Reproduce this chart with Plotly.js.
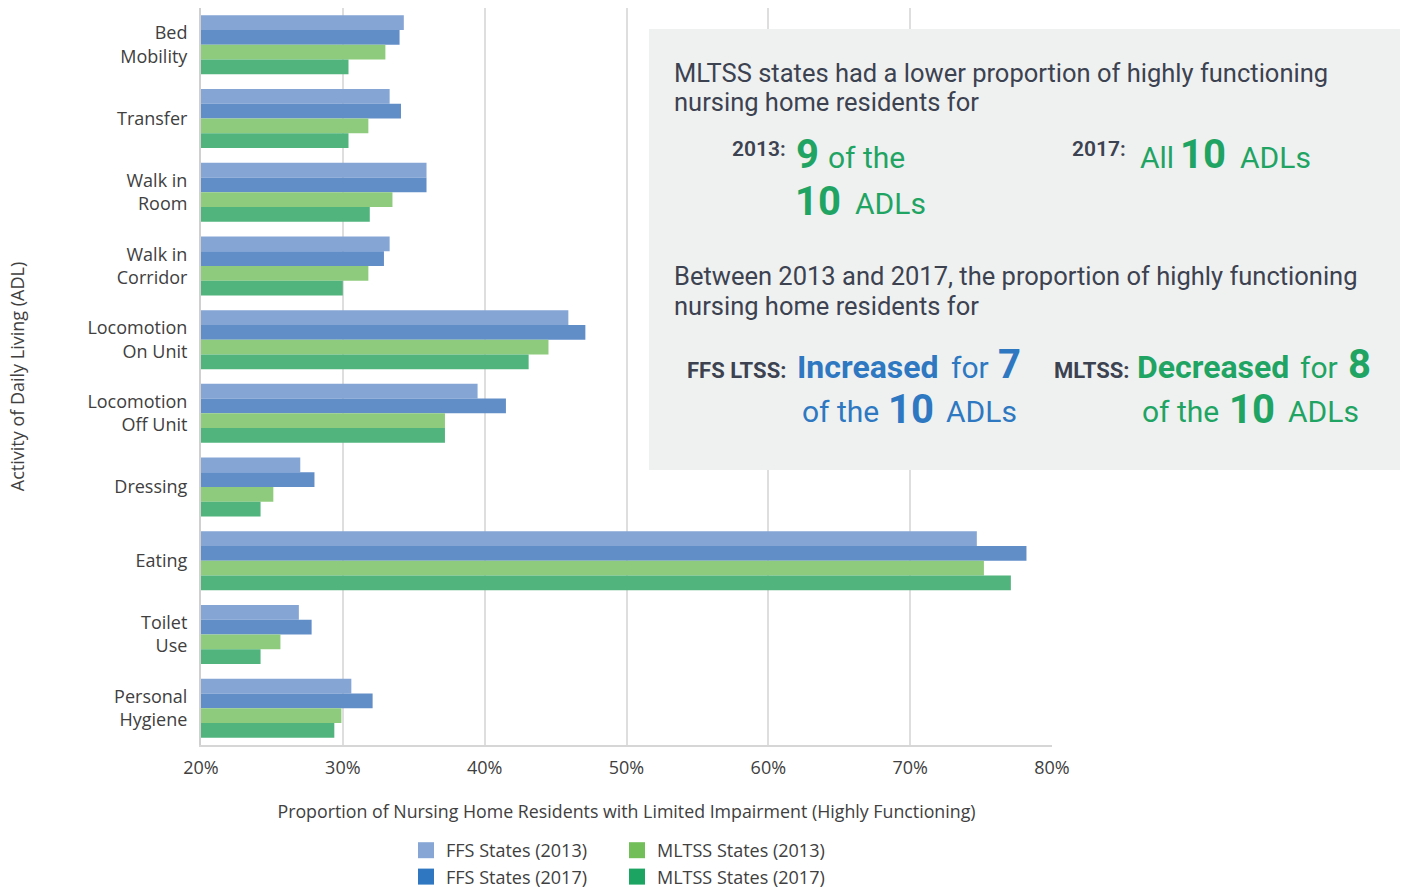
<!DOCTYPE html>
<html>
<head>
<meta charset="utf-8">
<script src="https://cdn.plot.ly/plotly-3.0.1.min.js"></script>
<style>html,body{margin:0;padding:0;background:#fff;}#chart{width:1403px;height:890px;}</style>
</head>
<body>
<div id="chart"></div>
<script>
// ---- data ----
const categories = ["Bed<br>Mobility","Transfer","Walk in<br>Room","Walk in<br>Corridor","Locomotion<br>On Unit","Locomotion<br>Off Unit","Dressing","Eating","Toilet<br>Use","Personal<br>Hygiene"];
const ffs2013   = [34.3, 33.3, 35.9, 33.3, 45.9, 39.5, 27.0, 74.7, 26.9, 30.6];
const ffs2017   = [34.0, 34.1, 35.9, 32.9, 47.1, 41.5, 28.0, 78.2, 27.8, 32.1];
const mltss2013 = [33.0, 31.8, 33.5, 31.8, 44.5, 37.2, 25.1, 75.2, 25.6, 29.9];
const mltss2017 = [30.4, 30.4, 31.9, 30.0, 43.1, 37.2, 24.2, 77.1, 24.2, 29.4];
const seriesNames = ["FFS States (2013)","FFS States (2017)","MLTSS States (2013)","MLTSS States (2017)"];
const xTickVals = [20, 30, 40, 50, 60, 70, 80];
const xTickLabels = ["20%","30%","40%","50%","60%","70%","80%"];

// ---- styling ----
const barColors = ["#85A5D5","#628EC8","#8ECB7D","#51B47D"];
const legendColors = ["#87A6D6","#2F78C1","#72BF5A","#1CA462"];
const legendIds = ["legend","legend","legend2","legend2"];
const FONT = "'Open Sans', sans-serif";
const BOXFONT = "Roboto, sans-serif";
const DARK = "#3c4250", GREEN = "#1fa463", BLUE = "#2e78c2";

const L = 201, R = 1052, T = 8, B = 745, W = 1403, H = 890;
const px = x => (x - L) / (R - L);
const py = y => (B - y) / (B - T);

const vals = [ffs2013, ffs2017, mltss2013, mltss2017];
const traces = vals.map((v, i) => ({
  type: "bar", orientation: "h", y: categories, x: v, name: seriesNames[i],
  marker: {color: barColors[i]}, showlegend: false, offsetgroup: String(i),
  hoverinfo: "x+name"
}));
vals.forEach((v, i) => traces.push({
  type: "scatter", mode: "markers", x: [null], y: [null], name: seriesNames[i],
  legend: legendIds[i], legendgroup: "g" + i,
  marker: {symbol: "square", size: 16, color: legendColors[i]}, hoverinfo: "skip"
}));

function ann(text, x, y, size, color, opts) {
  opts = opts || {};
  return {
    text: text, xref: "paper", yref: "paper", x: px(x), y: py(y),
    xanchor: opts.xa || "left", yanchor: "middle", showarrow: false,
    align: "left", font: {family: BOXFONT, size: size, color: color, weight: opts.w || 400}
  };
}

const annotations = [
  ann("MLTSS states had a lower proportion of highly functioning", 672, 73, 25.5, DARK),
  ann("nursing home residents for", 672, 102, 25.5, DARK),
  ann("2013:", 788, 149, 21, DARK, {xa: "right", w: 600}),
  ann("9", 794, 154, 40, GREEN, {w: 700}),
  ann("of the", 826, 158, 30, GREEN),
  ann("10", 793, 201, 40, GREEN, {w: 700}),
  ann("ADLs", 853, 203, 30, GREEN),
  ann("2017:", 1128, 149, 21, DARK, {xa: "right", w: 600}),
  ann("All", 1138, 158, 30, GREEN),
  ann("10", 1178, 154, 40, GREEN, {w: 700}),
  ann("ADLs", 1238, 158, 30, GREEN),
  ann("Between 2013 and 2017, the proportion of highly functioning", 672, 276, 25.5, DARK),
  ann("nursing home residents for", 672, 306, 25.5, DARK),
  ann("FFS LTSS:", 788, 370, 22, DARK, {xa: "right", w: 700}),
  ann("Increased", 795, 367, 32, BLUE, {w: 700}),
  ann("for", 949, 367, 30, BLUE),
  ann("7", 996, 364, 40, BLUE, {w: 700}),
  ann("of the", 800, 411, 30, BLUE),
  ann("10", 886, 409, 40, BLUE, {w: 700}),
  ann("ADLs", 944, 411, 30, BLUE),
  ann("MLTSS:", 1131, 370, 22, DARK, {xa: "right", w: 700}),
  ann("Decreased", 1135, 367, 32, GREEN, {w: 700}),
  ann("for", 1298, 367, 30, GREEN),
  ann("8", 1346, 364, 40, GREEN, {w: 700}),
  ann("of the", 1140, 411, 30, GREEN),
  ann("10", 1227, 409, 40, GREEN, {w: 700}),
  ann("ADLs", 1286, 411, 30, GREEN)
];

const legendBase = {
  orientation: "v", xanchor: "left", yanchor: "top", y: py(832),
  font: {family: FONT, size: 18, color: "#404040"}, bgcolor: "rgba(0,0,0,0)",
  tracegroupgap: 0, itemclick: false, itemdoubleclick: false
};

const layout = {
  width: W, height: H,
  margin: {l: L, r: W - R, t: T, b: H - B, pad: 0, autoexpand: false},
  paper_bgcolor: "#ffffff", plot_bgcolor: "#ffffff",
  font: {family: FONT, color: "#404040", size: 18},
  barmode: "group", bargap: 0.2, bargroupgap: 0,
  xaxis: {
    range: [20, 80], tickmode: "array", tickvals: xTickVals, ticktext: xTickLabels,
    showgrid: true, gridcolor: "#dedede", gridwidth: 2,
    zeroline: false, showline: true, linecolor: "#d6d6d6", linewidth: 2,
    ticks: "", ticklabelstandoff: 5, tickfont: {size: 18, color: "#404040"},
    title: {text: "Proportion of Nursing Home Residents with Limited Impairment (Highly Functioning)",
            font: {size: 17.8, color: "#404040"}, standoff: 28},
    automargin: false, fixedrange: true
  },
  yaxis: {
    autorange: "reversed", type: "category",
    showgrid: false, zeroline: false, showline: true, linecolor: "#d0d0d0", linewidth: 2,
    ticks: "", ticklabelstandoff: 8, tickfont: {size: 18, color: "#404040"},
    title: {text: "Activity of Daily Living (ADL)", font: {size: 18, color: "#404040"}, standoff: 58},
    automargin: false, fixedrange: true
  },
  legend: Object.assign({x: px(406)}, legendBase),
  legend2: Object.assign({x: px(617)}, legendBase),
  shapes: [{
    type: "rect", xref: "paper", yref: "paper",
    x0: px(649), x1: px(1400), y0: py(470), y1: py(29),
    fillcolor: "#eff1f0", line: {width: 0}, layer: "above"
  }],
  annotations: annotations
};

Plotly.newPlot("chart", traces, layout, {displayModeBar: false, staticPlot: true});
</script>
</body>
</html>
